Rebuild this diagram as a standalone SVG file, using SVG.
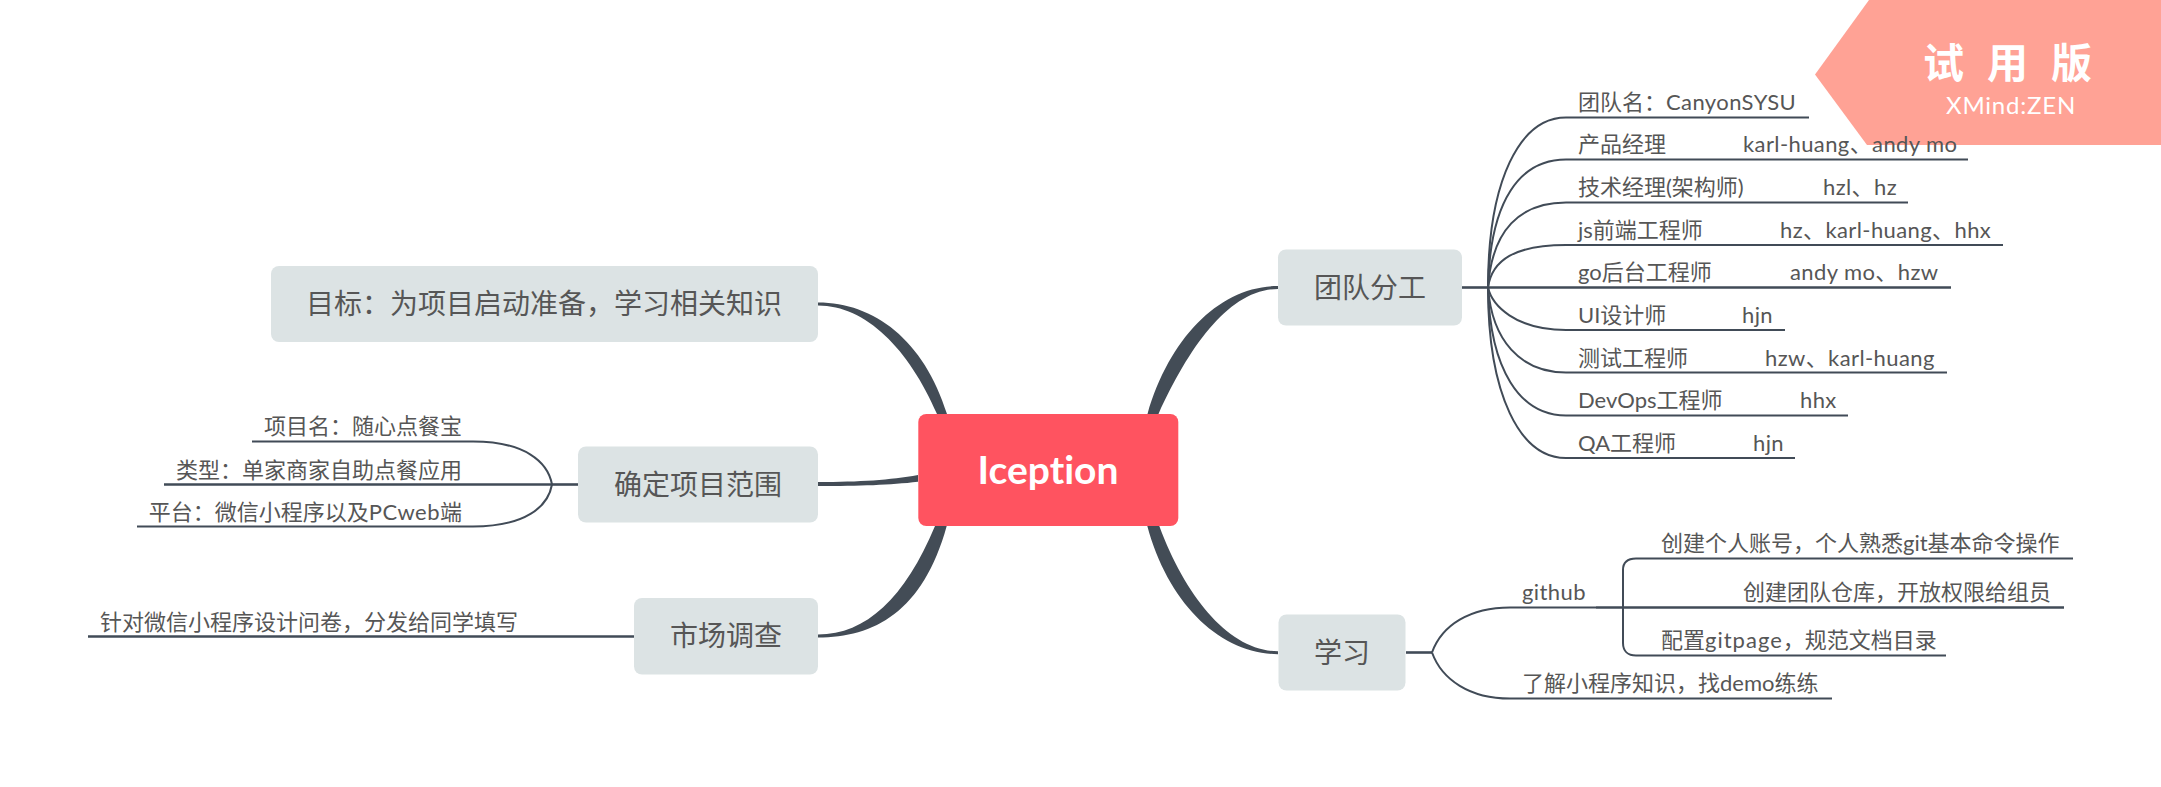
<svg xmlns="http://www.w3.org/2000/svg" width="2161" height="787" viewBox="0 0 2161 787">
<style>
text{font-family:"Lato","Noto Sans CJK SC","Noto Sans",sans-serif;fill:#565656;font-variant-ligatures:none}
.s{font-size:22px}
.b{font-size:28px;text-anchor:middle}
.r{text-anchor:end}
.a{letter-spacing:.4px}
.g{letter-spacing:1px}
.h{letter-spacing:.5px}
.n{fill:#dce3e4}
.l{fill:none;stroke:#414b57;stroke-width:2}
.t{fill:#434c56}
.u{fill:none;stroke:#414b57;stroke-width:2.6}
</style>
<rect width="2161" height="787" fill="#fff"/>
<g id="connectors">
<path class="t" d="M818 302.500C874 302.500 924 340 947 414L937 414C909 349 866 305.500 818 305.500Z"/>
<path class="t" d="M818 482C860 482 890 480 918 475L918 481.700C890 485 860 486 818 486Z"/>
<path class="t" d="M818 634.500C866 634.500 905 598 935 526L946.700 526C923 612 874 637.500 818 637.500Z"/>
<path class="t" d="M1278 286C1221 286 1170 336 1147.500 414L1158.500 414C1190 345 1230 289 1278 289Z"/>
<path class="t" d="M1147.300 526C1168 603 1220 654.200 1278 654.200L1278 651.200C1230 651.200 1186 598 1159.300 526Z"/>
<path class="u" d="M1462 287.500H1488"/>
<path class="l" d="M1488 287.500C1488 180 1520 117.500 1566 117.500H1809"/>
<path class="l" d="M1488 287.500C1490 200 1520 159.500 1566 159.500H1968"/>
<path class="l" d="M1488 287.500C1492 230 1520 202.500 1566 202.500H1908"/>
<path class="l" d="M1488 287.500C1492 260 1515 245 1566 245H2003"/>
<path class="u" d="M1488 287.500H1951"/>
<path class="l" d="M1488 287.500C1492 305 1515 330 1566 330H1785"/>
<path class="l" d="M1488 287.500C1492 340 1520 372.500 1566 372.500H1947"/>
<path class="l" d="M1488 287.500C1490 370 1520 415.500 1566 415.500H1848"/>
<path class="l" d="M1488 287.500C1488 395 1520 458 1566 458H1795"/>
<path class="u" d="M1406 652.500H1432"/>
<path class="l" d="M1432 652.500C1442 625 1470 607.500 1510 607.500H1596"/>
<path class="l" d="M1432 652.500C1442 680 1470 698.500 1510 698.500H1832"/>
<path class="u" d="M1596 607.500H2064"/>
<path class="l" d="M1623 607.500V570C1623 562 1628 558.500 1636 558.500H2073"/>
<path class="l" d="M1623 607.500V643C1623 651 1628 655.500 1636 655.500H1946"/>
<path class="u" d="M578 484.500H552"/>
<path class="l" d="M552 484.500C548 462 525 441.500 473 441.500H252"/>
<path class="u" d="M552 484.500H164"/>
<path class="l" d="M552 484.500C548 507 525 526.500 473 526.500H137"/>
<path class="u" d="M634 636.500H88"/>
</g>
<polygon id="watermark-shape" points="1869,0 2161,0 2161,145 1867,145 1815,74.500" fill="#ffa295"/>
<g id="root"><rect x="918.300" y="414" width="260" height="112" rx="8" fill="#ff5360"/><text x="1048" y="484" text-anchor="middle" font-size="39" font-weight="700" style="fill:#fff">Iception</text></g>
<g id="node-goal"><rect class="n" x="271" y="266" width="547" height="76" rx="8"/><text class="b" x="544" y="314">目标：为项目启动准备，学习相关知识</text></g>
<g id="node-scope"><rect class="n" x="578" y="446.500" width="240" height="76" rx="8"/><text class="b" x="698" y="495">确定项目范围</text>
<text class="s r" x="462" y="434">项目名：随心点餐宝</text><text class="s r" x="462" y="478">类型：单家商家自助点餐应用</text><text class="s r" x="462" y="520">平台：微信小程序以及<tspan class="h">PCweb</tspan>端</text></g>
<g id="node-market"><rect class="n" x="634" y="598" width="184" height="76.500" rx="8"/><text class="b" x="726" y="646">市场调查</text><text class="s r" x="518" y="630">针对微信小程序设计问卷，分发给同学填写</text></g>
<g id="node-team"><rect class="n" x="1278" y="249.500" width="184" height="76" rx="8"/><text class="b" x="1370" y="298">团队分工</text>
<text class="s" x="1578" y="110">团队名：<tspan class="a">CanyonSYSU</tspan></text>
<text class="s" x="1578" y="152">产品经理</text><text class="s a" x="1743" y="152">karl-huang、andy mo</text>
<text class="s" x="1578" y="195">技术经理(架构师)</text><text class="s a" x="1823" y="195">hzl、hz</text>
<text class="s" x="1578" y="238">js前端工程师</text><text class="s a" x="1780" y="238">hz、karl-huang、hhx</text>
<text class="s" x="1578" y="280">go后台工程师</text><text class="s a" x="1790" y="280">andy mo、hzw</text>
<text class="s" x="1578" y="323">UI设计师</text><text class="s a" x="1742" y="323">hjn</text>
<text class="s" x="1578" y="366">测试工程师</text><text class="s a" x="1765" y="366">hzw、karl-huang</text>
<text class="s" x="1578" y="408">DevOps工程师</text><text class="s a" x="1800" y="408">hhx</text>
<text class="s" x="1578" y="451">QA工程师</text><text class="s a" x="1753" y="451">hjn</text></g>
<g id="node-learn"><rect class="n" x="1278.500" y="614.500" width="127" height="76" rx="8"/><text class="b" x="1342" y="663">学习</text>
<text class="s a" x="1522" y="600">github</text><text class="s" x="1661" y="551">创建个人账号，个人熟悉git基本命令操作</text><text class="s" x="1743" y="600">创建团队仓库，开放权限给组员</text><text class="s" x="1661" y="648">配置<tspan class="g">gitpage</tspan>，规范文档目录</text><text class="s" x="1522" y="691">了解小程序知识，找demo练练</text></g>
<g id="watermark"><text x="1923" y="78" font-size="41" font-weight="700" letter-spacing="23" style="fill:#fff">试用版</text><text x="1946" y="114" font-size="24" letter-spacing=".8" style="fill:#fff">XMind:ZEN</text></g>
</svg>
